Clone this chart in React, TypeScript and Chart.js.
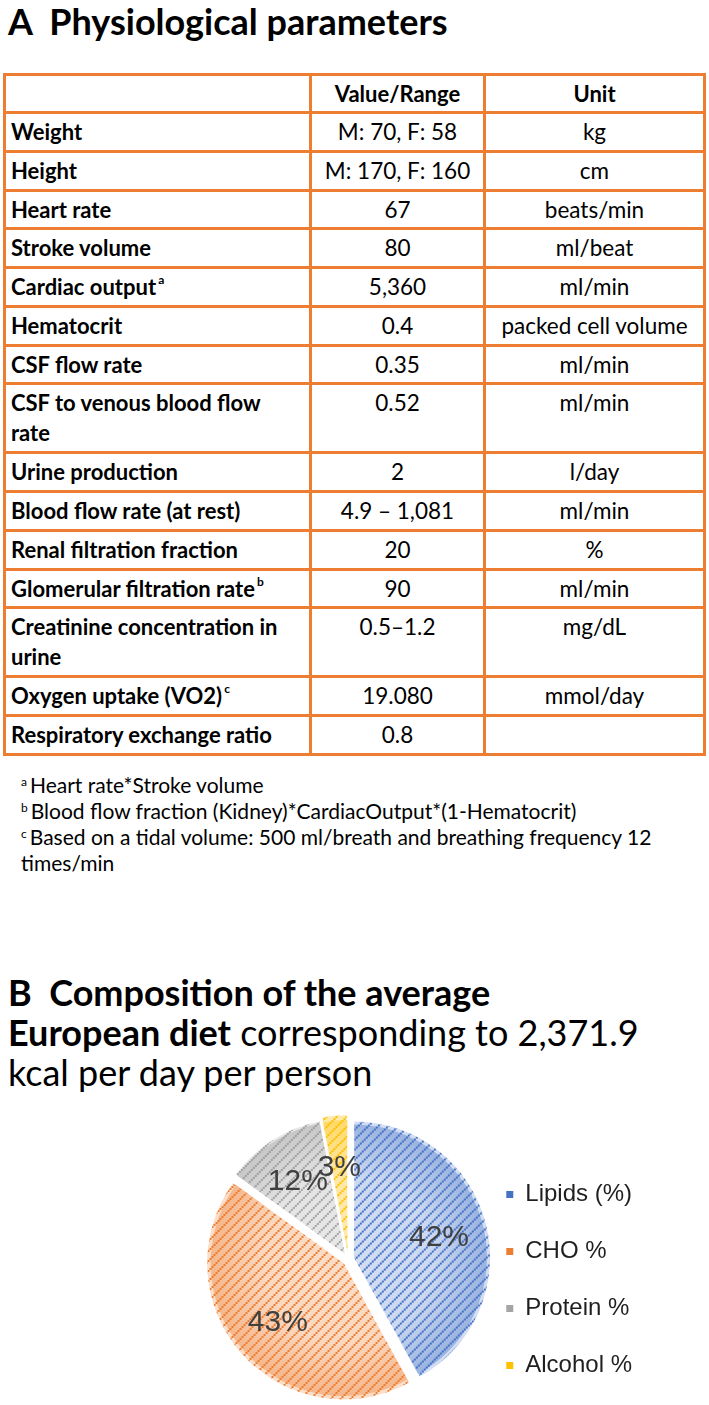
import React, { useEffect, useRef } from "react";
import { Chart, registerables } from "chart.js";

Chart.register(...registerables);

// ---------- Table data ----------
const tableHeaders = ["", "Value/Range", "Unit"];
const paramNames = [
  "Weight",
  "Height",
  "Heart rate",
  "Stroke volume",
  "Cardiac output",
  "Hematocrit",
  "CSF flow rate",
  "CSF to venous blood flow\nrate",
  "Urine production",
  "Blood flow rate (at rest)",
  "Renal filtration fraction",
  "Glomerular filtration rate",
  "Creatinine concentration in\nurine",
  "Oxygen uptake (VO2)",
  "Respiratory exchange ratio",
];
const paramSups = ["", "", "", "", "a", "", "", "", "", "", "", "b", "", "c", ""];
const paramValues = [
  "M: 70, F: 58",
  "M: 170, F: 160",
  "67",
  "80",
  "5,360",
  "0.4",
  "0.35",
  "0.52",
  "2",
  "4.9 – 1,081",
  "20",
  "90",
  "0.5–1.2",
  "19.080",
  "0.8",
];
const paramUnits = [
  "kg",
  "cm",
  "beats/min",
  "ml/beat",
  "ml/min",
  "packed cell volume",
  "ml/min",
  "ml/min",
  "l/day",
  "ml/min",
  "%",
  "ml/min",
  "mg/dL",
  "mmol/day",
  "",
];
const footnoteMarks = ["a", "b", "c"];
const footnoteTexts = [
  "Heart rate*Stroke volume",
  "Blood flow fraction (Kidney)*CardiacOutput*(1-Hematocrit)",
  "Based on a tidal volume: 500 ml/breath and breathing frequency 12\ntimes/min",
];

// ---------- Pie data ----------
const dietLabels = ["Lipids (%)", "CHO %", "Protein %", "Alcohol %"];
const dietValues = [42, 43, 12, 3];
const dietColors = ["#4472C4", "#ED7D31", "#A5A5A5", "#FFC000"];
const dietLightColors = ["#d3def3", "#fbddc8", "#e8e8e8", "#ffeaae"];
const dietRimRgb = ["68,114,196", "237,125,49", "150,150,150", "255,192,0"];

const ORANGE = "#ED7D31";
const TEXT_FONT = "Lato, 'Open Sans', sans-serif";
const CHART_FONT = "'Liberation Sans', Arial, sans-serif";

function makePattern(dark: string, light: string): CanvasPattern | string {
  const s = 10;
  const c = document.createElement("canvas");
  c.width = s;
  c.height = s;
  const g = c.getContext("2d");
  if (!g) return dark;
  g.fillStyle = light;
  g.fillRect(0, 0, s, s);
  g.fillStyle = dark;
  for (let i = 0; i < s; i += 2) g.fillRect(i, s - 2 - i, 2, 2);
  return g.createPattern(c, "repeat") || dark;
}

// Excel-like shading: the rim of each slice is darker than its centre
const shadePlugin = {
  id: "sliceShade",
  afterDatasetsDraw(chart: any) {
    const ctx = chart.ctx;
    const meta = chart.getDatasetMeta(0);
    meta.data.forEach((arc: any, i: number) => {
      const p = arc.getProps(["x", "y", "startAngle", "endAngle", "outerRadius"], true);
      const off = (arc.options.offset || 0) / 4;
      const mid = (p.startAngle + p.endAngle) / 2;
      const cx = p.x + Math.cos(mid) * off;
      const cy = p.y + Math.sin(mid) * off;
      const grad = ctx.createRadialGradient(cx, cy, 0, cx, cy, p.outerRadius);
      grad.addColorStop(0, `rgba(${dietRimRgb[i]},0)`);
      grad.addColorStop(0.6, `rgba(${dietRimRgb[i]},0.05)`);
      grad.addColorStop(1, `rgba(${dietRimRgb[i]},0.4)`);
      ctx.save();
      ctx.beginPath();
      ctx.moveTo(cx, cy);
      ctx.arc(cx, cy, p.outerRadius, p.startAngle, p.endAngle);
      ctx.closePath();
      ctx.fillStyle = grad;
      ctx.fill();
      ctx.restore();
    });
  },
};

const sliceLabelPlugin = {
  id: "sliceLabels",
  afterDatasetsDraw(chart: any) {
    const ctx = chart.ctx;
    const meta = chart.getDatasetMeta(0);
    const total = dietValues.reduce((a, b) => a + b, 0);
    ctx.save();
    ctx.font = `30px ${CHART_FONT}`;
    ctx.fillStyle = "#404040";
    ctx.textAlign = "center";
    ctx.textBaseline = "middle";
    meta.data.forEach((arc: any, i: number) => {
      const p = arc.getProps(["x", "y", "startAngle", "endAngle", "outerRadius"], true);
      const off = (arc.options.offset || 0) / 4;
      const mid = (p.startAngle + p.endAngle) / 2;
      const r = off + p.outerRadius * 0.66;
      const pct = Math.round((dietValues[i] / total) * 100);
      ctx.fillText(pct + "%", p.x + Math.cos(mid) * r, p.y + Math.sin(mid) * r + 2);
    });
    ctx.restore();
  },
};

function PieChart() {
  const ref = useRef<HTMLCanvasElement | null>(null);
  useEffect(() => {
    if (!ref.current) return;
    const patterns = dietColors.map((c, i) => makePattern(c, dietLightColors[i]));
    const chart = new Chart(ref.current, {
      type: "pie",
      data: {
        labels: dietLabels,
        datasets: [
          {
            data: dietValues,
            backgroundColor: patterns as any,
            borderWidth: 0,
            offset: 24,
            clip: false as any,
          },
        ],
      },
      options: {
        animation: false,
        responsive: false,
        radius: 133,
        layout: { padding: { left: 223, right: 67, top: 13, bottom: 5 } },
        plugins: {
          tooltip: { enabled: false },
          legend: {
            position: "right",
            align: "center",
            title: {
              display: true,
              text: " ",
              padding: { top: 30, bottom: 0 },
              font: { size: 10 },
            },
            labels: {
              boxWidth: 7,
              boxHeight: 7,
              padding: 33,
              color: "#1f1f1f",
              font: { family: CHART_FONT, size: 24 },
              generateLabels: () =>
                dietLabels.map((l, i) => ({
                  text: l,
                  fillStyle: dietColors[i],
                  strokeStyle: dietColors[i],
                  lineWidth: 0,
                  hidden: false,
                  index: i,
                  fontColor: "#1f1f1f",
                })),
            },
          },
        },
      } as any,
      plugins: [shadePlugin, sliceLabelPlugin],
    });
    return () => chart.destroy();
  }, []);
  return (
    <canvas
      ref={ref}
      width={709}
      height={330}
      style={{ position: "absolute", left: 0, top: 1090, width: 709, height: 330 }}
    />
  );
}

function Sup({ t }: { t: string }) {
  if (!t) return null;
  return (
    <span
      style={{
        fontSize: 12,
        position: "relative",
        top: -11,
        marginLeft: 2,
        lineHeight: 0,
        fontWeight: 700,
      }}
    >
      {t}
    </span>
  );
}

export default function App() {
  useEffect(() => {
    document.body.style.margin = "0";
    document.documentElement.style.overflow = "hidden";
  }, []);

  const colW = [306, 174, 217];
  const rowH = paramNames.map((n, i) =>
    i === paramNames.length - 1 ? 35.75 : n.includes("\n") ? 69 : 38.75
  );
  const border = `3px solid ${ORANGE}`;

  const cellBase: React.CSSProperties = {
    boxSizing: "border-box",
    paddingTop: 3,
    lineHeight: "30px",
    whiteSpace: "pre",
    overflow: "visible",
  };

  return (
    <div
      style={{
        position: "relative",
        width: 709,
        height: 1405,
        overflow: "hidden",
        background: "#fff",
        fontFamily: TEXT_FONT,
        color: "#000",
      }}
    >
      <div
        style={{
          position: "absolute",
          left: 8,
          top: 1,
          fontSize: 36,
          lineHeight: "40px",
          fontWeight: 700,
          whiteSpace: "pre",
        }}
      >
        {"A  Physiological parameters"}
      </div>

      <div
        style={{
          position: "absolute",
          left: 3,
          top: 73,
          width: 703,
          boxSizing: "border-box",
          border,
          display: "grid",
          gridTemplateColumns: colW.map((w) => w + "px").join(" "),
        }}
      >
        {tableHeaders.map((h, c) => (
          <div
            key={"h" + c}
            style={{
              ...cellBase,
              height: 38,
              fontSize: 22,
              borderBottom: border,
              borderRight: c < 2 ? border : undefined,
              textAlign: c === 0 ? "left" : "center",
              fontWeight: 700,
              paddingLeft: c === 0 ? 5 : 0,
            }}
          >
            {h}
          </div>
        ))}
        {paramNames.map((n, r) => {
          const last = r === paramNames.length - 1;
          const cells = [n, paramValues[r], paramUnits[r]];
          return cells.map((txt, c) => (
            <div
              key={r + "-" + c}
              style={{
                ...cellBase,
                height: rowH[r],
                fontSize: c === 0 ? 22 : 22.5,
                borderBottom: last ? undefined : border,
                borderRight: c < 2 ? border : undefined,
                textAlign: c === 0 ? "left" : "center",
                fontWeight: c === 0 ? 700 : 400,
                paddingLeft: c === 0 ? 5 : 0,
              }}
            >
              {txt}
              {c === 0 ? <Sup t={paramSups[r]} /> : null}
            </div>
          ));
        })}
      </div>

      <div
        style={{
          position: "absolute",
          left: 21,
          top: 772,
          fontSize: 21,
          lineHeight: "26px",
          whiteSpace: "pre-line",
        }}
      >
        {footnoteTexts.map((t, i) => (
          <div key={i}>
            <span
              style={{
                fontSize: 12,
                lineHeight: 0,
                position: "relative",
                top: -7,
                marginRight: 3,
              }}
            >
              {footnoteMarks[i]}
            </span>
            {t}
          </div>
        ))}
      </div>

      <div
        style={{
          position: "absolute",
          left: 8,
          top: 972,
          fontSize: 36,
          lineHeight: "40px",
          whiteSpace: "pre",
        }}
      >
        <span style={{ fontWeight: 700 }}>{"B  Composition of the average"}</span>
        <br />
        <span style={{ fontWeight: 700 }}>European diet</span>
        {" corresponding to 2,371.9"}
        <br />
        {"kcal per day per person"}
      </div>

      <PieChart />
    </div>
  );
}
